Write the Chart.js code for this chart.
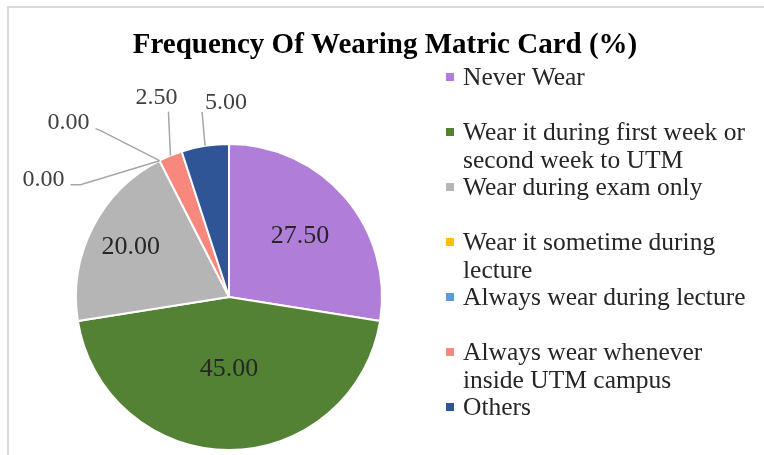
<!DOCTYPE html>
<html lang="en">
<head>
<meta charset="UTF-8">
<title>Frequency Of Wearing Matric Card</title>
<script src="https://cdn.jsdelivr.net/npm/chart.js"></script>
<style>
  body { margin: 0; background: #fff; overflow: hidden; }
  .box { position: relative; width: 764px; height: 455px; overflow: hidden; }
  .moldura { position: absolute; left: 7px; top: 6px; width: 800px; height: 500px; border-left: 2px solid #dadada; border-top: 2px solid #dadada; }
  canvas { position: absolute; left: 0; top: 0; }
</style>
</head>
<body>
<div class="box">
  <div class="moldura"></div>
  <canvas id="grafico" width="764" height="455"></canvas>
</div>
<script>
const titulo = 'Frequency Of Wearing Matric Card (%)';
const categorias = [
  'Never Wear',
  'Wear it during first week or second week to UTM',
  'Wear during exam only',
  'Wear it sometime during lecture',
  'Always wear during lecture',
  'Always wear whenever inside UTM campus',
  'Others'
];
const valores = [27.5, 45, 20, 0, 0, 2.5, 5];
const cores = ['#b07ed9', '#548235', '#b5b5b5', '#ffc000', '#5b9bd5', '#f8877e', '#2f5597'];

// onde fica cada rotulo: dentro (fracao do raio) ou fora com linha guia
const posRotulo = [
  { dentro: 0.61 },
  { dentro: 0.47 },
  { dentro: 0.72 },
  { linha: [[-59, -30], [-64, -32]], texto: [-91, -38] },
  { linha: [[-79, 24], [-89, 24]], texto: [-116, 19] },
  { linha: [[-2, -44]], texto: [-14, -58] },
  { linha: [[-3, -34]], texto: [21, -43] }
];

const fonte = '"Liberation Serif", "Times New Roman", serif';

const rotulos = {
  id: 'rotulos',
  afterDatasetsDraw(chart) {
    const ctx = chart.ctx;
    const arcos = chart.getDatasetMeta(0).data;
    ctx.save();
    ctx.textAlign = 'center';
    ctx.textBaseline = 'middle';
    arcos.forEach((arco, i) => {
      const { x, y, startAngle, endAngle, outerRadius } = arco.getProps(['x', 'y', 'startAngle', 'endAngle', 'outerRadius'], true);
      const meio = (startAngle + endAngle) / 2;
      const txt = valores[i].toFixed(2);
      const p = posRotulo[i];
      if (p.dentro) {
        ctx.font = '26px ' + fonte;
        ctx.fillStyle = '#262626';
        ctx.fillText(txt, x + Math.cos(meio) * outerRadius * p.dentro, y + Math.sin(meio) * outerRadius * p.dentro);
      } else {
        const bx = x + Math.cos(meio) * outerRadius;
        const by = y + Math.sin(meio) * outerRadius;
        ctx.strokeStyle = '#a6a6a6';
        ctx.lineWidth = 1.5;
        ctx.beginPath();
        ctx.moveTo(bx, by);
        p.linha.forEach(([dx, dy]) => ctx.lineTo(bx + dx, by + dy));
        ctx.stroke();
        ctx.font = '24px ' + fonte;
        ctx.fillStyle = '#404040';
        ctx.fillText(txt, bx + p.texto[0], by + p.texto[1]);
      }
    });
    ctx.restore();
  }
};

function quebrar(ctx, texto, largura) {
  const palavras = texto.split(' ');
  const linhas = [];
  let atual = '';
  palavras.forEach(p => {
    const teste = atual ? atual + ' ' + p : p;
    if (ctx.measureText(teste).width > largura && atual) {
      linhas.push(atual);
      atual = p;
    } else {
      atual = teste;
    }
  });
  linhas.push(atual);
  return linhas;
}

const tituloELegenda = {
  id: 'tituloELegenda',
  afterDraw(chart) {
    const ctx = chart.ctx;
    ctx.save();
    ctx.fillStyle = '#000';
    ctx.font = 'bold 29px ' + fonte;
    ctx.textAlign = 'center';
    ctx.textBaseline = 'alphabetic';
    ctx.fillText(titulo, 385, 53);

    ctx.font = '25.5px ' + fonte;
    ctx.textAlign = 'left';
    categorias.forEach((cat, i) => {
      const base = 85 + i * 55;
      ctx.fillStyle = cores[i];
      ctx.fillRect(446, base - 12, 8, 8);
      ctx.fillStyle = '#262626';
      quebrar(ctx, cat, 292).forEach((linha, j) => {
        ctx.fillText(linha, 463, base + j * 28);
      });
    });
    ctx.restore();
  }
};

const ctx = document.getElementById('grafico').getContext('2d');
new Chart(ctx, {
  type: 'pie',
  data: {
    labels: categorias,
    datasets: [{
      data: valores,
      backgroundColor: cores,
      borderColor: '#ffffff',
      borderWidth: 2
    }]
  },
  options: {
    responsive: false,
    animation: false,
    layout: { padding: { left: 75, right: 381, top: 142, bottom: 3 } },
    plugins: {
      legend: { display: false },
      title: { display: false },
      tooltip: { enabled: false }
    }
  },
  plugins: [rotulos, tituloELegenda]
});
</script>
</body>
</html>
